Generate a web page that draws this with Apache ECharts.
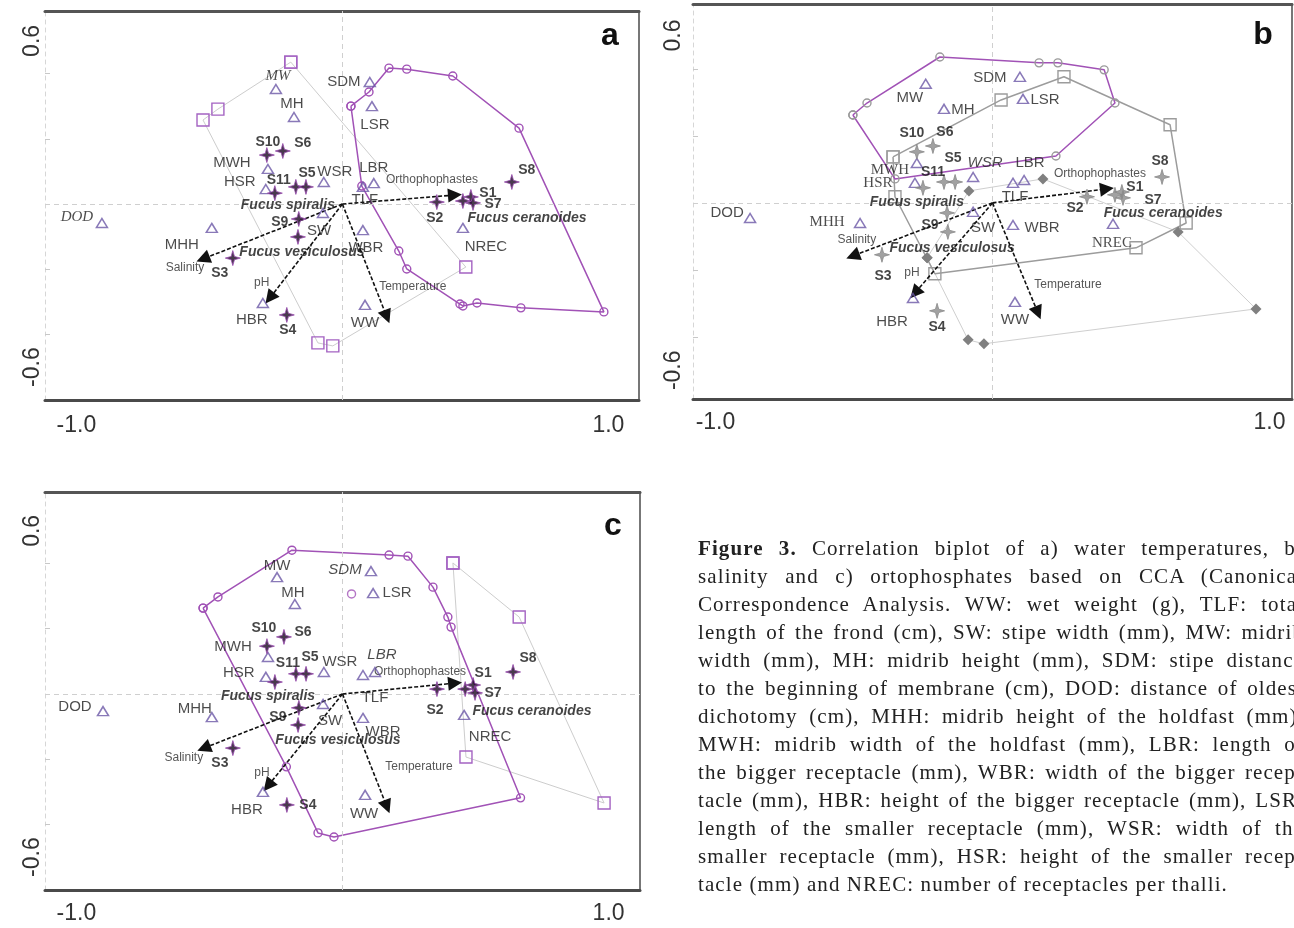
<!DOCTYPE html>
<html>
<head>
<meta charset="utf-8">
<script src="https://cdn.jsdelivr.net/npm/echarts@6/dist/echarts.min.js"></script>
<style>
html,body{margin:0;padding:0;background:#fff;overflow:hidden;width:1294px;height:928px;}
#chart{position:absolute;left:0;top:0;width:1294px;height:928px;}
#caption{position:absolute;left:698px;top:534px;width:606px;font-family:'Liberation Serif','Times New Roman',serif;font-size:21px;line-height:28px;color:#222;letter-spacing:1.1px;}
#caption div{text-align:justify;text-align-last:justify;height:28px;}
#caption div.last{text-align:left;text-align-last:left;}
</style>
</head>
<body>
<div id="chart"></div>
<div id="caption">
<div><b>Figure 3.</b> Correlation biplot of a) water temperatures, b)</div>
<div>salinity and c) ortophosphates based on CCA (Canonical</div>
<div>Correspondence Analysis. WW: wet weight (g), TLF: total</div>
<div>length of the frond (cm), SW: stipe width (mm), MW: midrib</div>
<div>width (mm), MH: midrib height (mm), SDM: stipe distance</div>
<div>to the beginning of membrane (cm), DOD: distance of oldest</div>
<div>dichotomy (cm), MHH: midrib height of the holdfast (mm),</div>
<div>MWH: midrib width of the holdfast (mm), LBR: length of</div>
<div>the bigger receptacle (mm), WBR: width of the bigger recep-</div>
<div>tacle (mm), HBR: height of the bigger receptacle (mm), LSR:</div>
<div>length of the smaller receptacle (mm), WSR: width of the</div>
<div>smaller receptacle (mm), HSR: height of the smaller recep-</div>
<div class="last">tacle (mm) and NREC: number of receptacles per thalli.</div>
</div>
<script>
// ---------- tick labels ----------
const xTickLabels = [-1.0, 1.0];
const yTickLabels = [0.6, -0.6];
const leftMinorTicks = [-0.48, -0.24, 0.24, 0.48];

// ---------- panel a ----------
const varsA = [
 ['MW',-0.250,0.423],['MH',-0.182,0.320],['SDM',0.103,0.449],['LSR',0.111,0.360],
 ['MWH',-0.280,0.129],['HSR',-0.288,0.055],['WSR',-0.070,0.081],['LBR',0.118,0.077],
 ['TLF',0.077,0.063],['DOD',-0.904,-0.070],['MHH',-0.491,-0.088],['SW',-0.073,-0.033],
 ['HBR',-0.299,-0.364],['NREC',0.453,-0.088],['WBR',0.077,-0.096],['WW',0.085,-0.371]
];
const sitesA = [
 ['S10',-0.284,0.180],['S6',-0.224,0.195],['S11',-0.254,0.040],['',-0.175,0.063],['S5',-0.137,0.063],
 ['S9',-0.164,-0.055],['',-0.167,-0.121],['S3',-0.412,-0.199],['S4',-0.209,-0.408],['S2',0.355,0.007],
 ['',0.453,0.011],['S1',0.483,0.026],['S7',0.491,0.004],['S8',0.637,0.081]
];
const speciesA = [['Fucus spiralis',-0.205,-0.004],['Fucus vesiculosus',-0.152,-0.176],['Fucus ceranoides',0.694,-0.051]];
const envA = [['Orthophophastes',0.423,0.033],['Salinity',-0.524,-0.202],['pH',-0.273,-0.346],['Temperature',0.167,-0.415]];
const hullCircleA = [[0.032,0.360],[0.100,0.412],[0.175,0.500],[0.242,0.496],[0.415,0.471],[0.664,0.279],[0.983,-0.397],[0.671,-0.382],[0.506,-0.364],[0.453,-0.375],[0.442,-0.368],[0.242,-0.239],[0.212,-0.173],[0.073,0.066],[0.032,0.360]];
const hullSquareA = [[-0.194,0.522],[-0.468,0.349],[-0.524,0.309],[-0.092,-0.511],[-0.036,-0.522],[0.464,-0.232],[-0.194,0.522]];

// ---------- panel b ----------
const varsB = [
 ['MW',-0.241,0.427],['MH',-0.175,0.337],['SDM',0.099,0.452],['LSR',0.110,0.373],
 ['MWH',-0.273,0.143],['HSR',-0.280,0.072],['WSR',-0.070,0.093],['LBR',0.114,0.082],
 ['TLF',0.074,0.072],['DOD',-0.875,-0.054],['MHH',-0.478,-0.072],['SW',-0.070,-0.032],
 ['WBR',0.074,-0.079],['NREC',0.435,-0.075],['HBR',-0.287,-0.341],['WW',0.081,-0.355]
];
const sitesB = [
 ['S10',-0.273,0.183],['S6',-0.215,0.204],['S11',-0.251,0.054],['',-0.175,0.075],['S5',-0.135,0.075],
 ['S9',-0.164,-0.036],['',-0.161,-0.104],['S3',-0.399,-0.186],['S4',-0.200,-0.387],['S2',0.341,0.022],
 ['',0.442,0.029],['S1',0.467,0.039],['S7',0.471,0.018],['S8',0.612,0.093]
];
const speciesB = [['Fucus spiralis',-0.273,0.004],['Fucus vesiculosus',-0.146,-0.161],['Fucus ceranoides',0.616,-0.036]];
const envB = [['Orthophophastes',0.413,0.050],['Salinity',-0.504,-0.190],['pH',-0.280,-0.323],['Temperature',0.164,-0.394]];
const hullCircleB = [[-0.504,0.315],[-0.453,0.358],[-0.190,0.523],[0.168,0.502],[0.236,0.502],[0.403,0.477],[0.442,0.358],[0.229,0.168],[-0.352,0.086],[-0.504,0.315]];
const hullSquareB = [[-0.359,0.165],[0.031,0.369],[0.258,0.452],[0.641,0.280],[0.699,-0.072],[0.518,-0.161],[-0.208,-0.254],[-0.352,0.022],[-0.359,0.165]];
const hullDiamondB = [[-0.236,-0.197],[-0.088,-0.491],[-0.031,-0.505],[0.951,-0.380],[0.670,-0.104],[0.182,0.086],[-0.085,0.043],[-0.236,-0.197]];

// ---------- panel c ----------
const varsC = [
 ['MW',-0.246,0.430],['MH',-0.179,0.331],['SDM',0.107,0.452],['LSR',0.115,0.371],
 ['MWH',-0.280,0.136],['HSR',-0.288,0.063],['WSR',-0.070,0.081],['LBR',0.122,0.081],
 ['TLF',0.077,0.070],['DOD',-0.900,-0.063],['MHH',-0.491,-0.085],['SW',-0.073,-0.037],
 ['WBR',0.077,-0.088],['NREC',0.457,-0.077],['HBR',-0.299,-0.360],['WW',0.085,-0.371]
];
const sitesC = [
 ['S10',-0.284,0.176],['S6',-0.220,0.210],['S11',-0.254,0.044],['',-0.175,0.074],['S5',-0.137,0.074],
 ['S9',-0.164,-0.051],['',-0.167,-0.114],['S3',-0.412,-0.199],['S4',-0.209,-0.408],['S2',0.355,0.018],
 ['',0.461,0.018],['S1',0.491,0.033],['S7',0.498,0.004],['S8',0.641,0.081]
];
const speciesC = [['Fucus spiralis',-0.280,-0.007],['Fucus vesiculosus',-0.017,-0.169],['Fucus ceranoides',0.712,-0.063]];
const envC = [['Orthophophastes',0.423,0.040],['Salinity',-0.521,-0.199],['pH',-0.280,-0.338],['Temperature',0.167,-0.415]];
const hullCircleC = [[-0.524,0.316],[-0.468,0.357],[-0.190,0.529],[0.175,0.511],[0.246,0.507],[0.340,0.393],[0.396,0.283],[0.408,0.246],[0.669,-0.382],[-0.032,-0.526],[-0.092,-0.511],[-0.211,-0.268],[-0.524,0.316]];
const loneCircleC = [[0.034,0.368]];
const hullSquareC = [[0.415,0.482],[0.664,0.283],[0.983,-0.401],[0.464,-0.232],[0.415,0.482]];

// ---------- styling (label offsets in px, fonts) ----------
const offA = {MW:[2,-13],MH:[-2,-13],SDM:[-26,0],LSR:[3,19],MWH:[-36,-6],HSR:[-26,-7],WSR:[11,-10],LBR:[0,-15],TLF:[2,13],DOD:[-25,-6],MHH:[-30,17],SW:[-4,18],HBR:[-11,17],NREC:[23,19],WBR:[3,18],WW:[0,18],
 S10:[1,-13],S6:[20,-8],S11:[4,-13],S5:[1,-14],S9:[-19,3],S3:[-13,15],S4:[1,15],S2:[-2,16],S1:[17,-4],S7:[20,1],S8:[15,-12],
 Orthophophastes:[-23,-15],Salinity:[-18,9],pH:[-8,-15],Temperature:[26,-30]};
const offB = {MW:[-16,14],MH:[19,1],SDM:[-30,1],LSR:[22,1],MWH:[-27,7],HSR:[-37,0],WSR:[12,-14],LBR:[6,-17],TLF:[2,14],DOD:[-23,-5],MHH:[-33,-1],SW:[10,16],WBR:[29,3],NREC:[-1,19],HBR:[-21,24],WW:[0,18],
 S10:[-5,-19],S6:[12,-14],S11:[10,-16],S5:[-2,-24],S9:[-17,12],S3:[1,21],S4:[0,16],S2:[-12,11],S1:[13,-5],S7:[30,2],S8:[-2,-16],
 Orthophophastes:[-7,-15],Salinity:[4,-16],pH:[-3,-20],Temperature:[30,-28]};
const offC = {MW:[0,-11],MH:[-2,-11],SDM:[-26,-1],LSR:[24,0],MWH:[-35,-10],HSR:[-27,-4],WSR:[16,-10],LBR:[7,-17],TLF:[12,23],DOD:[-28,-4],MHH:[-17,-8],SW:[7,17],WBR:[20,14],NREC:[26,22],HBR:[-16,18],WW:[-1,19],
 S10:[-3,-18],S6:[19,-5],S11:[13,-19],S5:[4,-17],S9:[-21,9],S3:[-13,15],S4:[21,0],S2:[-2,21],S1:[10,-12],S7:[18,0],S8:[15,-14],
 Orthophophastes:[-35,-11],Salinity:[-20,10],pH:[-6,-13],Temperature:[32,-40]};
const fontA = {MW:'serifItalic', DOD:'serifItalic'};
const fontB = {MWH:'serif', HSR:'serif', MHH:'serif', NREC:'serif', WSR:'italic'};
const fontC = {SDM:'italic', LBR:'italic'};

const SANS = "'Liberation Sans', Arial, sans-serif";
const SERIF = "'Liberation Serif', 'Times New Roman', serif";
const FONTS = {
  sans:{fontFamily:SANS, fontStyle:'normal'},
  italic:{fontFamily:SANS, fontStyle:'italic'},
  serif:{fontFamily:SERIF, fontStyle:'normal'},
  serifItalic:{fontFamily:SERIF, fontStyle:'italic'}
};
const PURPLE = '#a152b6', TRI = '#6b58a6', INK = '#1e1e1e';
const STAR = 'path://M50,0 L61,39 L100,50 L61,61 L50,100 L39,61 L0,50 L39,39 Z';
const CLEAR = 'rgba(0,0,0,0)';

const panels = [
 {vars:varsA, sites:sitesA, species:speciesA, env:envA, off:offA, font:fontA,
  grid:{left:45, top:11, width:594, height:389}, x:[-1.118,1.115], y:[-0.721,0.710], xm:14, ym:1,
  starFill:'#1c0822', starBorder:'#9a4cb0', letter:['a',610,36],
  hulls:[
   {data:hullSquareA, line:'#cdcdcd', lw:1, sym:'rect', size:12, color:'#a463c2', fill:false, z:2},
   {data:hullCircleA, line:PURPLE, lw:1.5, sym:'circle', size:8, color:PURPLE, fill:false, z:3}
  ]},
 {vars:varsB, sites:sitesB, species:speciesB, env:envB, off:offB, font:fontB,
  grid:{left:693, top:4, width:599, height:395}, x:[-1.081,1.081], y:[-0.703,0.713], xm:12, ym:8,
  starFill:'#8a8a8a', starBorder:'#8a8a8a', letter:['b',1263,35],
  hulls:[
   {data:hullDiamondB, line:'#cfcfcf', lw:1, sym:'diamond', size:11, color:'#808080', fill:true, z:2},
   {data:hullSquareB, line:'#9c9c9c', lw:1.5, sym:'rect', size:12, color:'#9c9c9c', fill:false, z:2},
   {data:hullCircleB, line:PURPLE, lw:1.5, sym:'circle', size:8, color:'#9a9a9a', fill:false, z:3}
  ]},
 {vars:varsC, sites:sitesC, species:speciesC, env:envC, off:offC, font:fontC,
  grid:{left:45, top:492, width:595, height:398}, x:[-1.118,1.118], y:[-0.721,0.743], xm:12, ym:1,
  starFill:'#1c0822', starBorder:'#9a4cb0', letter:['c',613,526],
  hulls:[
   {data:hullSquareC, line:'#cdcdcd', lw:1, sym:'rect', size:12, color:'#a463c2', fill:false, z:2},
   {data:hullCircleC, line:PURPLE, lw:1.5, sym:'circle', size:8, color:PURPLE, fill:false, z:3},
   {data:loneCircleC, line:'none', lw:0, sym:'circle', size:8, color:PURPLE, fill:false, z:3, scatter:true}
  ]}
];

function labelFor(name, p) {
  const o = p.off[name];
  if (!name || !o) return {show:false};
  return Object.assign({show:true, offset:o}, FONTS[p.font[name] || 'sans']);
}

const grid = [], xAxis = [], yAxis = [], series = [], graphic = [];
const tickFont = {fontSize:23, color:'#333', fontFamily:SANS};

panels.forEach((p, i) => {
  grid.push(p.grid);
  xAxis.push({gridIndex:i, type:'value', min:p.x[0], max:p.x[1], position:'bottom',
    axisLine:{show:true, onZero:false, lineStyle:{color:'#4a4a4a', width:3}},
    axisTick:{show:false}, splitLine:{show:false},
    axisLabel:Object.assign({show:true, customValues:xTickLabels, formatter:v=>Number(v).toFixed(1), margin:p.xm}, tickFont)});
  xAxis.push({gridIndex:i, type:'value', min:p.x[0], max:p.x[1], position:'top',
    axisLine:{show:true, onZero:false, lineStyle:{color:'#555', width:3}},
    axisTick:{show:false}, splitLine:{show:false}, axisLabel:{show:false}});
  yAxis.push({gridIndex:i, type:'value', min:p.y[0], max:p.y[1], position:'left',
    axisLine:{show:true, onZero:false, lineStyle:{color:'#d6d6d6', width:1, type:[4,4]}},
    axisTick:{show:true, inside:true, length:5, customValues:leftMinorTicks, lineStyle:{color:'#c8c8c8'}},
    splitLine:{show:false},
    axisLabel:Object.assign({show:true, customValues:yTickLabels, formatter:v=>Number(v).toFixed(1), rotate:90, margin:p.ym}, tickFont)});
  yAxis.push({gridIndex:i, type:'value', min:p.y[0], max:p.y[1], position:'right',
    axisLine:{show:true, onZero:false, lineStyle:{color:'#777', width:2}},
    axisTick:{show:false}, splitLine:{show:false}, axisLabel:{show:false}});

  const ax = {xAxisIndex:i*2, yAxisIndex:i*2, silent:true, animation:false};

  // zero reference lines
  series.push(Object.assign({type:'scatter', data:[], z:1,
    markLine:{silent:true, symbol:'none', animation:false, label:{show:false},
      lineStyle:{type:[5,4], color:'#cfcfcf', width:1},
      data:[{xAxis:0},{yAxis:0}]}}, ax));

  // hull polygons
  p.hulls.forEach(h => {
    const item = {color:h.fill ? h.color : CLEAR, borderColor:h.color, borderWidth:h.fill ? 0 : 1.4};
    if (h.scatter) {
      series.push(Object.assign({type:'scatter', z:h.z, symbol:h.sym, symbolSize:h.size, itemStyle:item, data:h.data}, ax));
    } else {
      series.push(Object.assign({type:'line', z:h.z, data:h.data, symbol:h.sym, symbolSize:h.size, showSymbol:true,
        lineStyle:{color:h.line, width:h.lw}, itemStyle:item, emphasis:{disabled:true}}, ax));
    }
  });

  // environmental arrows from the origin
  series.push(Object.assign({type:'scatter', z:6, symbol:'circle', symbolSize:1, itemStyle:{color:CLEAR},
    data:p.env.map(e => ({name:e[0], value:[e[1], e[2]], label:labelFor(e[0], p)})),
    label:{show:true, position:'inside', formatter:'{b}', color:'#2a2a2a', fontSize:12, fontFamily:SANS},
    markLine:{silent:true, animation:false, symbol:['none','triangle'], symbolSize:14,
      label:{show:false}, lineStyle:{type:[4,2], color:'#111', width:1.6},
      data:p.env.map(e => [{coord:[0,0]}, {coord:[e[1], e[2]]}])}
  }, ax));

  // response variables (triangles)
  series.push(Object.assign({type:'scatter', z:7, symbol:'triangle', symbolSize:[11,9],
    itemStyle:{color:CLEAR, borderColor:TRI, borderWidth:1.5},
    data:p.vars.map(v => ({name:v[0], value:[v[1], v[2]], label:labelFor(v[0], p)})),
    label:{show:true, position:'inside', formatter:'{b}', color:INK, fontSize:15, fontFamily:SANS}}, ax));

  // sampling sites (stars)
  series.push(Object.assign({type:'scatter', z:8, symbol:STAR, symbolSize:15,
    itemStyle:{color:p.starFill, borderColor:p.starBorder, borderWidth:1},
    data:p.sites.map(v => ({name:v[0], value:[v[1], v[2]], label:labelFor(v[0], p)})),
    label:{show:true, position:'inside', formatter:'{b}', color:'#151515', fontSize:14, fontWeight:'bold', fontFamily:SANS}}, ax));

  // species centroids (text only)
  series.push(Object.assign({type:'scatter', z:9, symbol:'circle', symbolSize:1, itemStyle:{color:CLEAR},
    data:p.species.map(v => ({name:v[0], value:[v[1], v[2]]})),
    label:{show:true, position:'inside', formatter:'{b}', color:'#151515', fontSize:14, fontWeight:'bold', fontStyle:'italic', fontFamily:SANS}}, ax));

  graphic.push({type:'text', x:p.letter[1], y:p.letter[2], z:100,
    style:{text:p.letter[0], fill:'#111', font:"bold 32px 'Liberation Sans', Arial, sans-serif", align:'center', verticalAlign:'middle'}});
});

const chart = echarts.init(document.getElementById('chart'), null, {renderer:'canvas'});
chart.setOption({animation:false, backgroundColor:'#fff', grid, xAxis, yAxis, series, graphic});
</script>
</body>
</html>
